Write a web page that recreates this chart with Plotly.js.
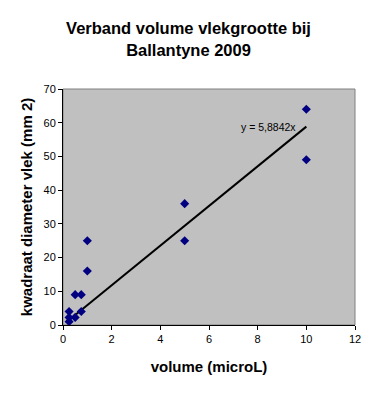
<!DOCTYPE html>
<html><head><meta charset="utf-8">
<script src="https://cdn.plot.ly/plotly-3.0.1.min.js"></script>
<style>html,body{margin:0;padding:0;background:#fff}#c{width:377px;height:393px}</style>
</head><body><div id="c"></div>
<script>
var volume = [0.25, 0.25, 0.25, 0.5, 0.5, 0.75, 0.75, 1, 1, 5, 5, 10, 10];
var diameterSq = [1, 2.25, 4, 2.25, 9, 9, 4, 16, 25, 36, 25, 64, 49];
var slope = 5.8842;
var trendX = [Math.min.apply(null, volume), Math.max.apply(null, volume)];
var trendY = trendX.map(function(x){ return slope * x; });
var xTicks = [0, 2, 4, 6, 8, 10, 12];
var yTicks = [0, 10, 20, 30, 40, 50, 60, 70];

var data = [
  {x: trendX, y: trendY, mode: 'lines', line: {color: '#000', width: 2}, hoverinfo: 'skip'},
  {x: volume, y: diameterSq, mode: 'markers', type: 'scatter',
   marker: {symbol: 'diamond', color: '#000080', size: 7}}
];
var layout = {
  width: 377, height: 393,
  margin: {l: 63, r: 22, t: 89, b: 68},
  paper_bgcolor: '#fff', plot_bgcolor: '#c0c0c0',
  showlegend: false,
  font: {family: 'Liberation Sans, Arial, sans-serif', color: '#000', size: 11},
  title: {text: '<b>Verband volume vlekgrootte bij<br>Ballantyne 2009</b>',
          font: {size: 16.5, color: '#000'}, x: 0.5, xanchor: 'center', y: 0.913, yanchor: 'middle'},
  xaxis: {range: [0, 12], tickvals: xTicks, showgrid: false, zeroline: false,
          showline: true, linecolor: '#000', linewidth: 1, mirror: false,
          ticks: 'outside', ticklen: 4, tickcolor: '#000',
          title: {text: '<b>volume (microL)</b>', font: {size: 15}, standoff: 17}},
  yaxis: {range: [0, 70], tickvals: yTicks, showgrid: false, zeroline: false,
          showline: true, linecolor: '#000', linewidth: 1,
          ticks: 'outside', ticklen: 4, tickcolor: '#000',
          title: {text: '<b>kwadraat diameter vlek (mm 2)</b>', font: {size: 15}, standoff: 7}},
  shapes: [{type: 'rect', xref: 'paper', yref: 'paper', x0: 0, x1: 1, y0: 0, y1: 1,
            line: {color: '#808080', width: 1}, layer: 'below'}],
  annotations: [{x: 9.65, y: 58.6, xref: 'x', yref: 'y', text: 'y = 5,8842x',
                 showarrow: false, xanchor: 'right', yanchor: 'middle', font: {size: 10.5}}]
};
Plotly.newPlot('c', data, layout, {staticPlot: true});
</script></body></html>
